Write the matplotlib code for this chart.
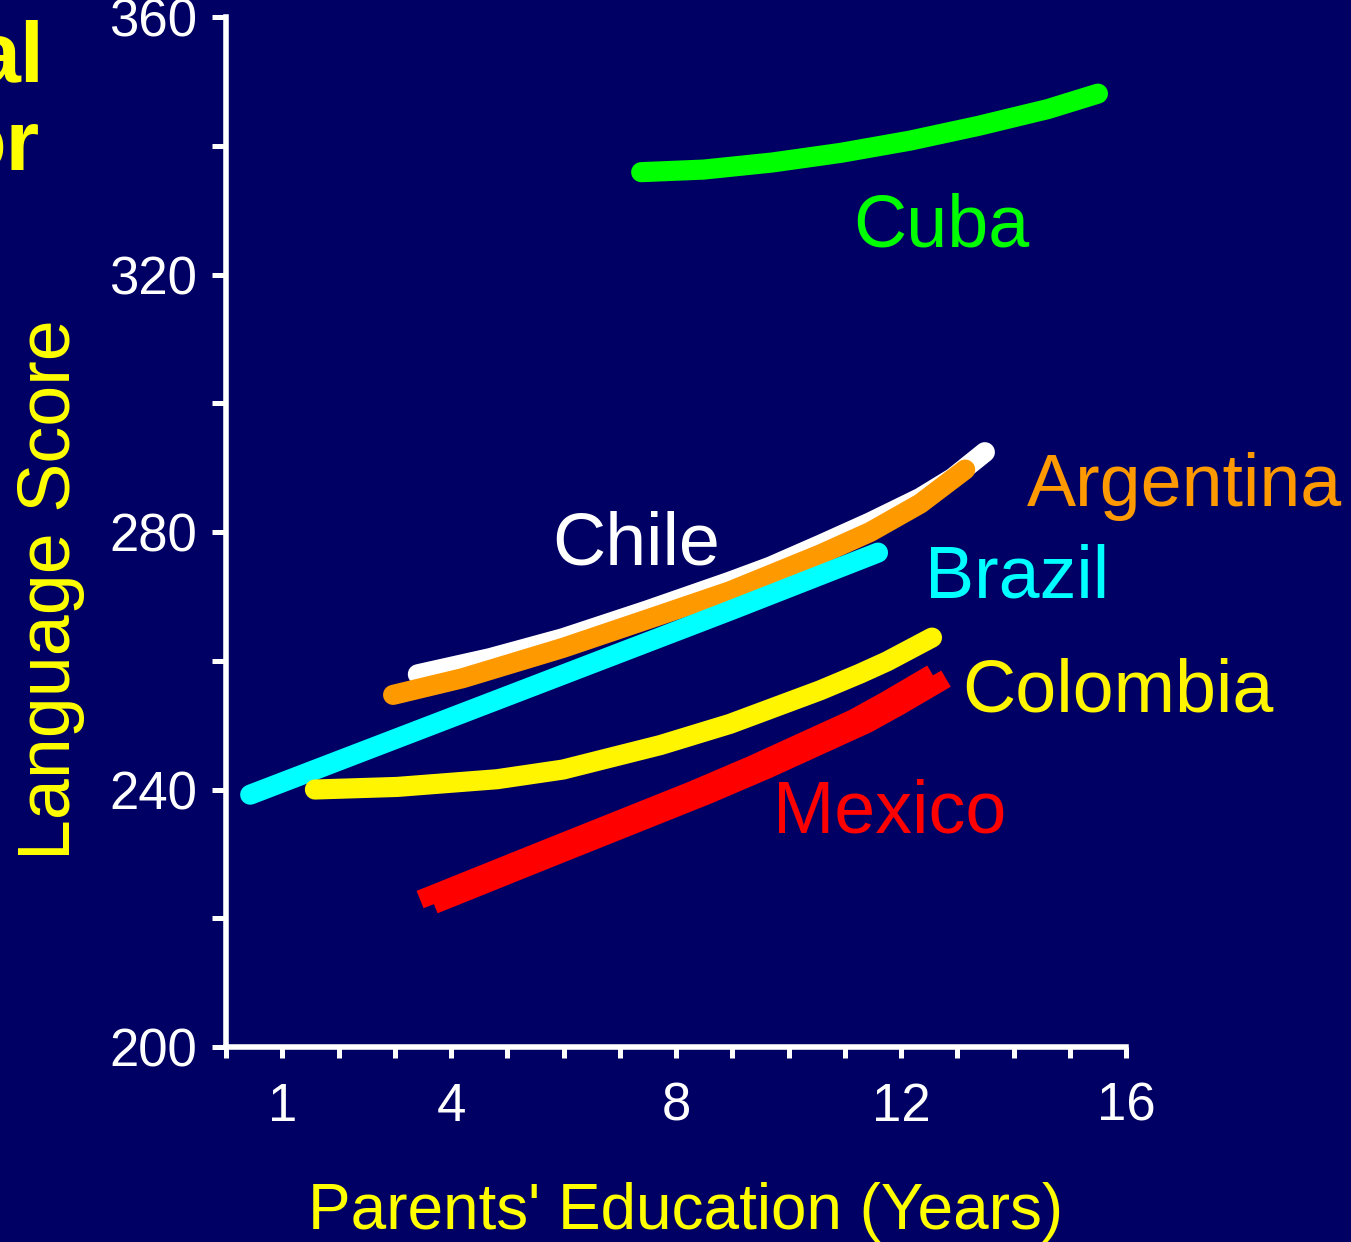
import matplotlib
matplotlib.use('Agg')
import matplotlib.pyplot as plt
import matplotlib.transforms as mtransforms

plt.rcParams['font.family'] = ['Liberation Sans', 'DejaVu Sans']

# 数据
cuba_x = [7.38, 8.49, 9.71, 10.93, 12.16, 13.38, 14.61, 15.5]
cuba_y = [335.9, 336.3, 337.4, 338.9, 340.8, 343.1, 345.7, 348.1]

chile_x = [3.41, 4.69, 5.99, 7.48, 8.96, 9.67, 10.56, 11.45, 12.34, 12.92, 13.49]
chile_y = [257.9, 260.4, 263.5, 267.8, 272.3, 274.6, 278.0, 281.5, 285.3, 288.4, 292.4]

argentina_x = [2.97, 4.21, 5.99, 7.48, 8.96, 10.56, 11.45, 12.34, 13.14]
argentina_y = [254.7, 257.3, 262.0, 266.4, 270.8, 276.5, 280.0, 284.4, 289.7]

brazil_x = [0.43, 8.96, 11.59]
brazil_y = [239.2, 267.8, 276.8]

colombia_x = [1.58, 3.04, 4.82, 5.99, 7.72, 8.96, 10.56, 11.27, 11.75, 12.55]
colombia_y = [240.0, 240.4, 241.6, 243.1, 246.9, 250.2, 255.4, 258.0, 259.9, 263.6]

mexico_x = [3.45, 5.64, 8.30, 9.37, 11.15, 11.73, 12.55]
mexico_y = [222.9, 230.6, 239.9, 243.9, 251.0, 253.8, 258.0]

x_ticks = list(range(0, 17))
x_labels = {1: '1', 4: '4', 8: '8', 12: '12', 16: '16'}
y_ticks = list(range(200, 361, 20))
y_labels = {200: '200', 240: '240', 280: '280', 320: '320', 360: '360'}

bg = '#000064'
fig = plt.figure(figsize=(13.51, 12.42), dpi=100, facecolor=bg)
ax = fig.add_axes([0.1673, 0.157, 0.6662, 0.8293])
ax.set_facecolor(bg)

lw = 14.5
ax.plot(chile_x, chile_y, color='white', lw=lw, solid_capstyle='round', solid_joinstyle='round', zorder=2)
ax.plot(argentina_x, argentina_y, color='#FF9900', lw=lw, solid_capstyle='round', solid_joinstyle='round', zorder=3)
ax.plot(brazil_x, brazil_y, color='#00FFFF', lw=lw, solid_capstyle='round', zorder=4)
ax.plot(colombia_x, colombia_y, color='#FFF500', lw=lw, solid_capstyle='round', solid_joinstyle='round', zorder=5)
ax.plot(cuba_x, cuba_y, color='#00FF00', lw=lw, solid_capstyle='round', solid_joinstyle='round', zorder=5)

# 墨西哥线是两条略有错开的粗线
ax.plot(mexico_x, mexico_y, color='red', lw=13.5, solid_capstyle='butt', solid_joinstyle='round', zorder=6)
shift = mtransforms.offset_copy(ax.transData, fig=fig, x=14, y=-5, units='dots')
ax.plot(mexico_x, mexico_y, color='red', lw=13.5, solid_capstyle='butt', solid_joinstyle='round',
        zorder=6, transform=shift)

# 国家名称
ax.text(12.71, 324.3, 'Cuba', color='#00FF00', fontsize=53, ha='center', va='baseline')
ax.text(17.04, 284.0, 'Argentina', color='#FF9900', fontsize=53, ha='center', va='baseline')
ax.text(7.3, 275.0, 'Chile', color='white', fontsize=53, ha='center', va='baseline')
ax.text(14.06, 269.8, 'Brazil', color='#00FFFF', fontsize=53, ha='center', va='baseline')
ax.text(15.85, 252.1, 'Colombia', color='#FFF500', fontsize=53, ha='center', va='baseline')
ax.text(11.8, 233.3, 'Mexico', color='red', fontsize=53, ha='center', va='baseline')

ax.set_xlim(0, 16)
ax.set_ylim(200, 360)
ax.set_xticks(x_ticks)
ax.set_xticklabels([x_labels.get(t, '') for t in x_ticks])
ax.set_yticks(y_ticks)
ax.set_yticklabels([y_labels.get(t, '') for t in y_ticks])

for s in ['top', 'right']:
    ax.spines[s].set_visible(False)
for s in ['left', 'bottom']:
    ax.spines[s].set_color('white')
    ax.spines[s].set_linewidth(4)

ax.tick_params(axis='x', colors='white', labelsize=38, length=8, width=3.6, pad=17)
ax.tick_params(axis='y', colors='white', labelsize=38, length=10, width=3.6, pad=11)

# 轴标题
fig.text(0.0377, 0.525, 'Language Score', color='yellow', fontsize=53,
         rotation=90, ha='center', va='center')
fig.text(686 / 1351, 1 - 1229 / 1242, "Parents' Education (Years)", color='yellow',
         fontsize=46, ha='center', va='baseline')

# 左上角被截断的标题文字
fig.text(44 / 1351, 1 - 82 / 1242, 'al', color='yellow', fontsize=62,
         fontweight='bold', ha='right', va='baseline')
fig.text(40 / 1351, 1 - 170 / 1242, 'or', color='yellow', fontsize=62,
         fontweight='bold', ha='right', va='baseline')

fig.savefig('out.png', dpi=100, facecolor=bg)
